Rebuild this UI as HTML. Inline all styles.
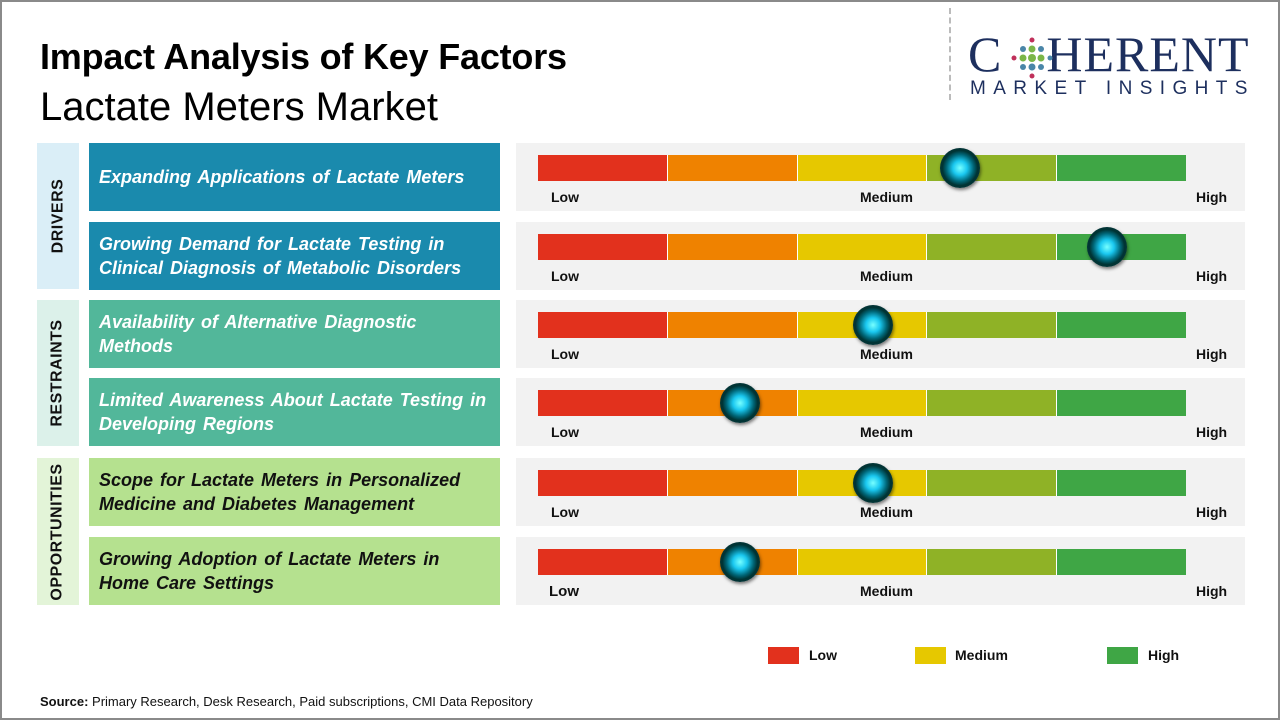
<!DOCTYPE html>
<html><head><meta charset="utf-8"><style>
body{margin:0;width:1280px;height:720px;background:#fff;font-family:"Liberation Sans","DejaVu Sans",sans-serif;position:relative;overflow:hidden}
.frame{position:absolute;left:0;top:0;width:1276px;height:716px;border:2px solid #8a8a8a}
.a{position:absolute}
h1{position:absolute;left:40px;top:36px;margin:0;font-size:36px;font-weight:bold;color:#000;letter-spacing:-0.2px}
h2{position:absolute;left:40px;top:85px;margin:0;font-size:40px;font-weight:normal;color:#000}
.cat{position:absolute;left:37px;width:42px;display:flex;align-items:center;justify-content:center}
.cat span{transform:rotate(-90deg);white-space:nowrap;font-weight:bold;font-size:16px;color:#111;letter-spacing:0.5px}
.tb{position:absolute;left:89px;width:411px;height:68px;display:flex;align-items:center;box-sizing:border-box;padding-left:10px;font-style:italic;font-weight:bold;font-size:18px;line-height:24px;color:#fff;word-spacing:2px}
.pn{position:absolute;left:516px;width:729px;height:68px;background:#f2f2f2}
.bar{position:absolute;left:22px;top:12px;height:26px;width:648px;display:flex}
.bar div{flex:1;border-right:1px solid #fff}
.lb{position:absolute;top:46px;font-size:14px;font-weight:bold;color:#111}
.mk{position:absolute;width:40px;height:40px;border-radius:50%;top:5px;margin-left:-20px;background:radial-gradient(circle at 50% 50%,#7ff 0,#1ac8f0 25%,#067 48%,#033 62%,#0c3a44 100%);box-shadow:1px 2px 3px rgba(0,0,0,.5)}
.lg{position:absolute;top:647px;width:31px;height:17px}
.lt{position:absolute;top:647px;font-size:14px;font-weight:bold;color:#111}
</style></head><body>
<div class="frame"></div>
<h1>Impact Analysis of Key Factors</h1>
<h2>Lactate Meters Market</h2>
<div class="a" style="left:949px;top:8px;height:92px;border-left:2px dashed #bbb"></div>
<div class="a" style="left:968px;top:26px;font-family:'Liberation Serif',serif;font-size:50px;color:#1d2f5e;letter-spacing:1px;line-height:56px">C<span style="display:inline-block;width:44px"></span>HERENT</div>
<svg class="a" style="left:1010px;top:36px" width="44" height="44"><g>
<circle cx="22" cy="22" r="4" fill="#7ab648"/><circle cx="13" cy="22" r="3.5" fill="#7ab648"/><circle cx="31" cy="22" r="3.5" fill="#7ab648"/><circle cx="22" cy="13" r="3.5" fill="#7ab648"/><circle cx="22" cy="31" r="3.5" fill="#4a86a8"/><circle cx="13" cy="13" r="3" fill="#4a86a8"/><circle cx="31" cy="13" r="3" fill="#4a86a8"/><circle cx="13" cy="31" r="3" fill="#4a86a8"/><circle cx="31" cy="31" r="3" fill="#4a86a8"/><circle cx="22" cy="4" r="2.5" fill="#c0305a"/><circle cx="22" cy="40" r="2.5" fill="#c0305a"/><circle cx="4" cy="22" r="2.5" fill="#c0305a"/><circle cx="40" cy="22" r="2.5" fill="#4a86a8"/></g></svg>
<div class="a" style="left:970px;top:78px;font-size:19px;color:#1d2f5e;letter-spacing:7.4px">MARKET INSIGHTS</div>

<div class="cat" style="top:143px;height:146px;background:#daeef7"><span>DRIVERS</span></div>
<div class="cat" style="top:300px;height:146px;background:#dcf1ea"><span>RESTRAINTS</span></div>
<div class="cat" style="top:458px;height:147px;background:#e3f4d8"><span>OPPORTUNITIES</span></div>

<div class="tb" style="top:143px;background:#1a8aad">Expanding Applications of Lactate Meters</div>
<div class="tb" style="top:222px;background:#1a8aad">Growing Demand for Lactate Testing in<br>Clinical Diagnosis of Metabolic Disorders</div>
<div class="tb" style="top:300px;background:#52b79a">Availability of Alternative Diagnostic<br>Methods</div>
<div class="tb" style="top:378px;background:#52b79a">Limited Awareness About Lactate Testing in<br>Developing Regions</div>
<div class="tb" style="top:458px;background:#b5e18f;color:#111">Scope for Lactate Meters in Personalized<br>Medicine and Diabetes Management</div>
<div class="tb" style="top:537px;background:#b5e18f;color:#111">Growing Adoption of Lactate Meters in<br>Home Care Settings</div>

<div class="pn" style="top:143px"><div class="bar"><div style="background:#e2311d"></div><div style="background:#ef8200"></div><div style="background:#e6c800"></div><div style="background:#8fb226"></div><div style="background:#3fa645;border:0"></div></div><span class="lb" style="left:35px">Low</span><span class="lb" style="left:344px">Medium</span><span class="lb" style="left:680px">High</span><div class="mk" style="left:444px"></div></div>
<div class="pn" style="top:222px"><div class="bar"><div style="background:#e2311d"></div><div style="background:#ef8200"></div><div style="background:#e6c800"></div><div style="background:#8fb226"></div><div style="background:#3fa645;border:0"></div></div><span class="lb" style="left:35px">Low</span><span class="lb" style="left:344px">Medium</span><span class="lb" style="left:680px">High</span><div class="mk" style="left:591px"></div></div>
<div class="pn" style="top:300px"><div class="bar"><div style="background:#e2311d"></div><div style="background:#ef8200"></div><div style="background:#e6c800"></div><div style="background:#8fb226"></div><div style="background:#3fa645;border:0"></div></div><span class="lb" style="left:35px">Low</span><span class="lb" style="left:344px">Medium</span><span class="lb" style="left:680px">High</span><div class="mk" style="left:357px"></div></div>
<div class="pn" style="top:378px"><div class="bar"><div style="background:#e2311d"></div><div style="background:#ef8200"></div><div style="background:#e6c800"></div><div style="background:#8fb226"></div><div style="background:#3fa645;border:0"></div></div><span class="lb" style="left:35px">Low</span><span class="lb" style="left:344px">Medium</span><span class="lb" style="left:680px">High</span><div class="mk" style="left:224px"></div></div>
<div class="pn" style="top:458px"><div class="bar"><div style="background:#e2311d"></div><div style="background:#ef8200"></div><div style="background:#e6c800"></div><div style="background:#8fb226"></div><div style="background:#3fa645;border:0"></div></div><span class="lb" style="left:35px">Low</span><span class="lb" style="left:344px">Medium</span><span class="lb" style="left:680px">High</span><div class="mk" style="left:357px"></div></div>
<div class="pn" style="top:537px"><div class="bar"><div style="background:#e2311d"></div><div style="background:#ef8200"></div><div style="background:#e6c800"></div><div style="background:#8fb226"></div><div style="background:#3fa645;border:0"></div></div><span class="lb" style="left:33px;font-size:15px">Low</span><span class="lb" style="left:344px">Medium</span><span class="lb" style="left:680px">High</span><div class="mk" style="left:224px"></div></div>

<div class="lg" style="left:768px;background:#e2311d"></div><span class="lt" style="left:809px">Low</span>
<div class="lg" style="left:915px;background:#e6c800"></div><span class="lt" style="left:955px">Medium</span>
<div class="lg" style="left:1107px;background:#3fa645"></div><span class="lt" style="left:1148px">High</span>

<div class="a" style="left:40px;top:694px;font-size:13px;color:#111"><b>Source:</b> Primary Research, Desk Research, Paid subscriptions, CMI Data Repository</div>
</body></html>
